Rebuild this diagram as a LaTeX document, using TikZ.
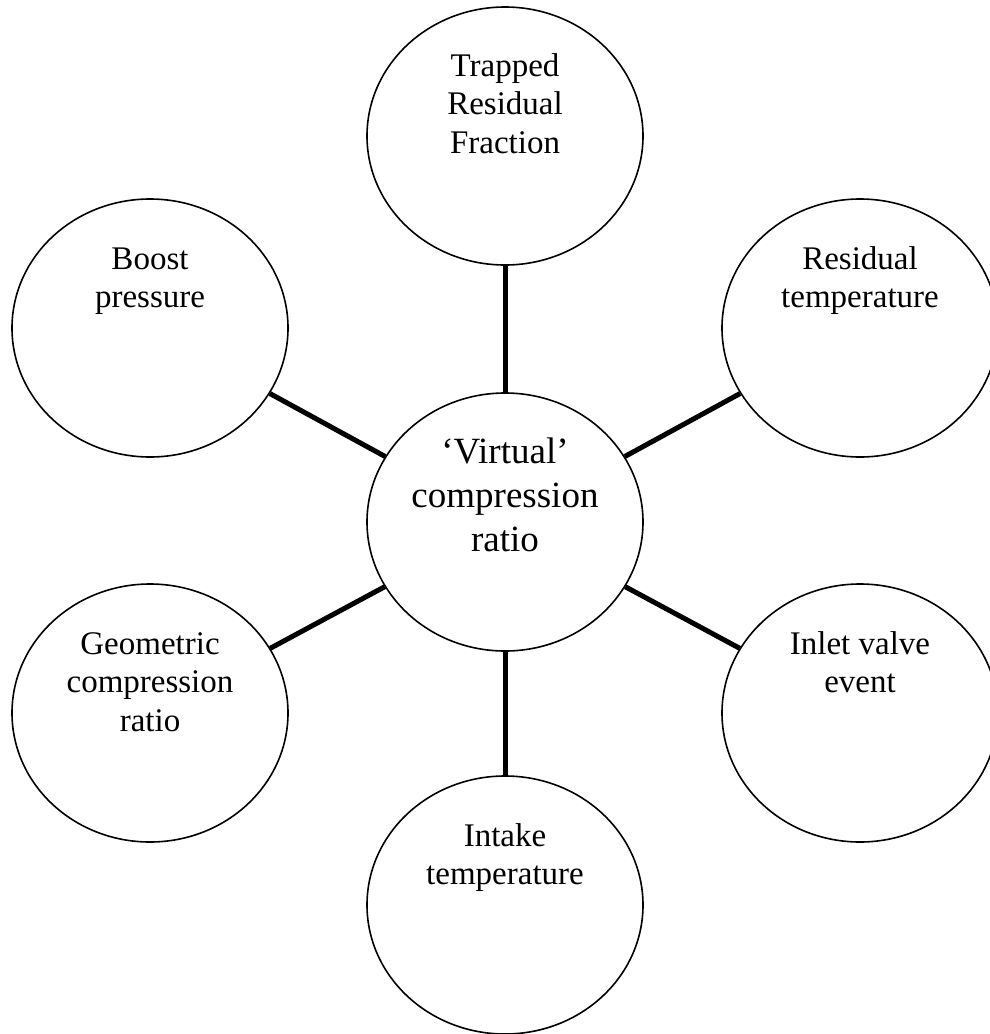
\documentclass[tikz,border=0pt]{standalone}
\usepackage{fontspec}
\setmainfont{Liberation Serif}
\usetikzlibrary{shapes.geometric}
\tikzset{
  bubble/.style={ellipse, draw=black, line width=1.6pt, minimum width=276pt, minimum height=258pt, inner sep=0pt},
  outertext/.style={anchor=base, inner sep=0pt, font=\fontsize{33}{38.5}\selectfont},
  innertext/.style={anchor=base, inner sep=0pt, font=\fontsize{37}{44}\selectfont},
  link/.style={line width=5pt}
}
\newcommand{\lines}[1]{\begin{tabular}[t]{@{}c@{}}#1\end{tabular}}
\begin{document}
\begin{tikzpicture}[x=1pt,y=-1pt]
\useasboundingbox (0,0) rectangle (990,1034);
\node[bubble] (vcr) at (505,522) {};
\node[bubble] (trf) at (505,136) {};
\node[bubble] (bp) at (150,328) {};
\node[bubble] (rt) at (860,328) {};
\node[bubble] (gcr) at (150,713) {};
\node[bubble] (ive) at (860,713) {};
\node[bubble] (it) at (505,905) {};
\node[innertext] (vcrt) at (505,463) {\lines{‘Virtual’\\compression\\ratio}};
\node[outertext] (trft) at (505,76) {\lines{Trapped\\Residual\\Fraction}};
\node[outertext] (bpt) at (150,269) {\lines{Boost\\pressure}};
\node[outertext] (rtt) at (860,269) {\lines{Residual\\temperature}};
\node[outertext] (gcrt) at (150,654) {\lines{Geometric\\compression\\ratio}};
\node[outertext] (ivet) at (860,654) {\lines{Inlet valve\\event}};
\node[outertext] (itt) at (505,846) {\lines{Intake\\temperature}};
\foreach \n in {trf,bp,rt,gcr,ive,it}
  \draw[link] (vcr) -- (\n);
\end{tikzpicture}
\end{document}
